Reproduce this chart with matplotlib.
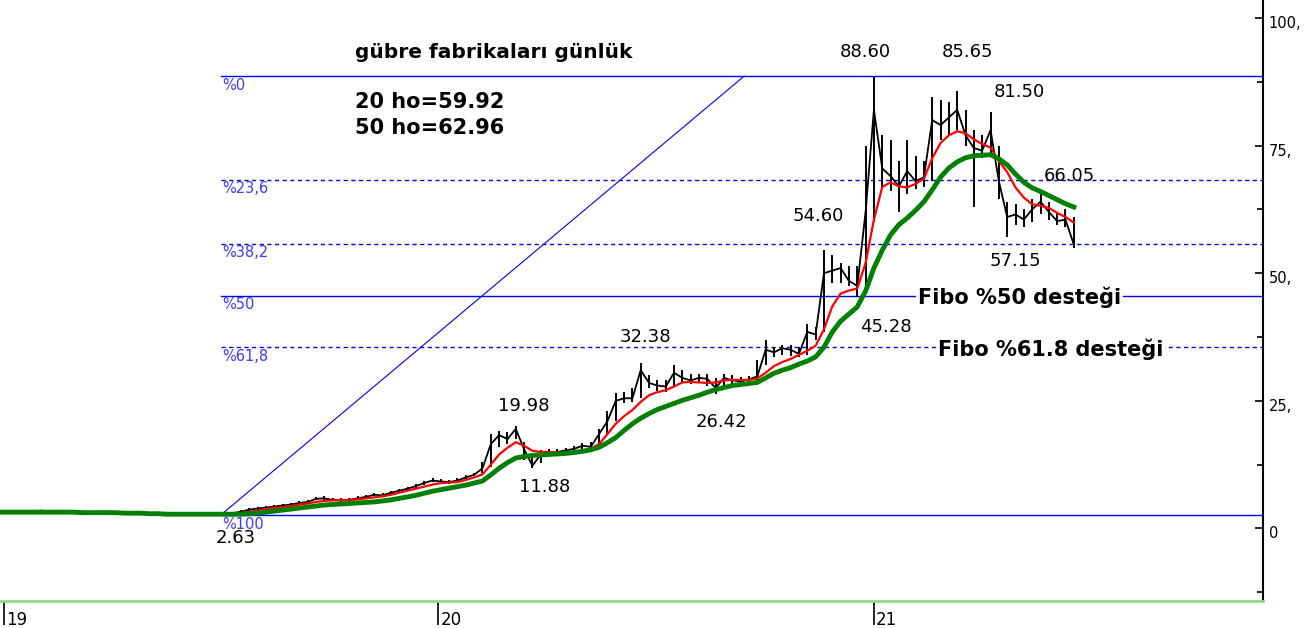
import numpy as np
import pandas as pd
import matplotlib
matplotlib.use("Agg")
import matplotlib.pyplot as plt
import matplotlib.transforms as mtrans

# weekly closes / highs / lows (from end of Dec 2018)
close = [3.2, 3.2, 3.1, 3.1, 3.3, 3.5, 3.3, 3.2, 3.1, 3.1,
         3.1, 3.0, 3.0, 3.0, 3.0, 3.0, 2.9, 2.9, 2.8, 2.8,
         2.8, 2.7, 2.7, 2.7, 2.7, 2.7, 2.7, 2.65, 3.0, 3.3,
         3.7, 3.9, 4.1, 4.3, 4.5, 4.7, 5.0, 5.2, 5.8, 5.9,
         5.6, 5.5, 5.6, 5.9, 6.2, 6.6, 6.5, 7.0, 7.4, 7.8,
         8.3, 8.9, 9.4, 9.2, 9.1, 9.4, 10.0, 10.5, 11.8, 16.5,
         18.3, 17.5, 19.5, 15.5, 12.3, 14.5, 14.8, 15.0, 15.3, 15.6,
         16.2, 16.0, 18.5, 21.0, 25.0, 25.5, 25.5, 31.0, 28.5, 28.0,
         27.8, 30.5, 29.5, 29.0, 29.5, 29.3, 27.5, 29.5, 29.0, 28.8,
         29.2, 29.8, 35.0, 34.5, 35.3, 35.0, 34.2, 38.5, 38.0, 50.0,
         50.5, 51.0, 48.5, 47.5, 62.0, 82.0, 70.5, 69.0, 67.0, 70.0,
         68.0, 68.8, 80.0, 79.0, 80.5, 82.0, 77.0, 74.5, 74.0, 78.0,
         68.0, 61.0, 61.5, 60.5, 62.5, 64.0, 62.0, 60.2, 60.5, 55.6]

high = [3.4, 3.4, 3.3, 3.3, 3.5, 3.7, 3.5, 3.4, 3.3, 3.3,
        3.3, 3.2, 3.2, 3.2, 3.2, 3.2, 3.1, 3.1, 3.0, 3.0,
        3.0, 2.9, 2.9, 2.9, 2.9, 2.9, 2.9, 2.9, 3.3, 3.6,
        4.0, 4.2, 4.4, 4.6, 4.8, 5.0, 5.3, 5.6, 6.2, 6.3,
        6.0, 5.9, 6.0, 6.3, 6.6, 7.0, 6.9, 7.4, 7.8, 8.2,
        8.7, 9.3, 9.8, 9.6, 9.5, 9.8, 10.4, 10.9, 13.0, 18.5,
        19.0, 18.8, 19.98, 17.0, 14.5, 15.3, 15.5, 15.6, 15.8, 16.2,
        16.8, 17.0, 19.5, 23.0, 26.5, 26.8, 27.5, 32.38, 30.0, 29.0,
        29.0, 32.0, 31.0, 30.2, 30.2, 30.2, 29.5, 30.3, 30.0, 29.6,
        29.8, 33.0, 37.0, 35.5, 36.0, 36.0, 35.5, 40.0, 39.5, 54.6,
        53.5, 52.0, 51.5, 51.5, 75.0, 88.6, 77.0, 76.0, 72.0, 76.0,
        73.0, 72.0, 84.5, 84.0, 83.5, 85.65, 82.0, 78.0, 77.0, 81.5,
        75.0, 64.0, 63.5, 62.5, 64.5, 66.05, 64.0, 62.0, 62.5, 61.0]

low = [3.0, 3.0, 2.9, 2.9, 3.1, 3.3, 3.1, 3.0, 2.9, 2.9,
       2.9, 2.8, 2.8, 2.8, 2.8, 2.8, 2.7, 2.7, 2.6, 2.6,
       2.6, 2.6, 2.6, 2.6, 2.6, 2.6, 2.6, 2.63, 2.8, 3.0,
       3.4, 3.6, 3.8, 4.0, 4.2, 4.4, 4.7, 4.9, 5.5, 5.6,
       5.3, 5.2, 5.3, 5.6, 5.9, 6.3, 6.2, 6.7, 7.1, 7.5,
       8.0, 8.6, 9.1, 8.9, 8.8, 9.1, 9.7, 10.2, 10.8, 12.0,
       16.0, 16.5, 17.5, 13.5, 11.88, 12.8, 14.3, 14.5, 14.7, 15.0,
       15.5, 15.6, 16.0, 18.5, 21.0, 24.5, 24.8, 25.5, 27.5, 27.0,
       26.8, 27.8, 28.5, 28.3, 28.5, 28.0, 26.42, 27.5, 28.0, 28.0,
       28.5, 29.0, 32.0, 33.5, 34.0, 33.8, 33.5, 34.0, 37.0, 38.5,
       48.0, 48.0, 47.5, 45.28, 47.0, 60.0, 66.5, 66.0, 62.0, 65.5,
       66.5, 66.8, 68.0, 76.0, 77.0, 78.0, 75.0, 63.0, 72.5, 73.0,
       64.5, 57.15, 59.5, 59.0, 60.0, 61.5, 60.5, 59.5, 59.0, 55.0]

ma20 = [3.2, 3.2, 3.2, 3.2, 3.3, 3.4, 3.3, 3.2, 3.1, 3.1,
        3.1, 3.0, 3.0, 3.0, 3.0, 3.0, 2.9, 2.9, 2.8, 2.8,
        2.8, 2.8, 2.7, 2.7, 2.7, 2.7, 2.7, 2.7, 2.8, 3.0,
        3.3, 3.5, 3.8, 4.0, 4.2, 4.4, 4.7, 4.9, 5.2, 5.4,
        5.5, 5.5, 5.6, 5.7, 5.9, 6.1, 6.3, 6.6, 7.0, 7.4,
        7.8, 8.2, 8.6, 8.9, 9.0, 9.1, 9.5, 10.0, 10.6, 12.5,
        14.5, 15.8, 16.9, 16.2, 15.2, 15.0, 15.0, 14.9, 14.8, 15.0,
        15.3, 15.7, 16.5, 18.5, 20.5, 22.0, 23.2, 24.8, 26.1, 26.7,
        27.1, 27.8, 28.6, 28.7, 28.6, 28.5, 28.6, 29.0, 29.1, 29.1,
        29.1, 29.4, 30.5, 31.8, 32.6, 33.2, 34.0, 34.8, 35.8, 39.0,
        43.5, 46.0, 46.6, 47.0, 52.0, 60.5, 66.9, 67.8, 67.0, 66.8,
        67.5, 68.5, 72.5, 75.5, 77.0, 77.8, 77.4, 76.2, 75.3, 74.6,
        72.0, 69.8, 66.8, 64.8, 63.5, 63.2, 62.8, 61.8, 61.0, 59.92]

ma50 = [3.2, 3.2, 3.2, 3.2, 3.2, 3.2, 3.2, 3.2, 3.2, 3.2,
        3.1, 3.1, 3.1, 3.1, 3.1, 3.0, 3.0, 3.0, 2.9, 2.9,
        2.8, 2.8, 2.8, 2.8, 2.8, 2.8, 2.8, 2.8, 2.8, 2.8,
        2.9, 3.0, 3.2, 3.4, 3.6, 3.8, 4.0, 4.2, 4.4, 4.6,
        4.7, 4.8, 4.9, 5.0, 5.1, 5.2, 5.4, 5.6, 5.9, 6.2,
        6.5, 6.9, 7.3, 7.6, 7.9, 8.2, 8.5, 8.9, 9.3, 10.5,
        11.8, 12.9, 13.8, 14.1, 14.3, 14.4, 14.5, 14.6, 14.7, 14.9,
        15.1, 15.4, 15.9, 16.8, 17.8, 19.2, 20.5, 21.6, 22.5, 23.3,
        23.9, 24.5, 25.1, 25.6, 26.1, 26.7, 27.2, 27.6, 28.0, 28.2,
        28.4, 28.6, 29.5, 30.4, 31.0, 31.5, 32.2, 32.8, 33.6, 35.5,
        38.5, 40.6, 42.0, 43.4, 46.5, 51.0, 54.5, 57.5, 59.5, 60.8,
        62.3, 64.0, 66.3, 68.8, 70.6, 71.8, 72.6, 73.0, 73.1, 73.2,
        72.4, 71.2, 69.4, 67.8, 66.7, 66.0, 65.2, 64.4, 63.6, 62.96]

dates = pd.date_range("2018-12-28", periods=len(close), freq="7D")

fib_low = 2.63
fib_high = 88.60
fib_start = "2019-07-02"
fib_pct = [0, 23.6, 38.2, 50, 61.8, 100]
fib_names = ["%0", "%23,6", "%38,2", "%50", "%61,8", "%100"]
fib_dashed = [False, True, True, False, True, False]

trend_end = "2020-09-14"

price_notes = [("88.60", "2020-12-25", 93.3), ("85.65", "2021-03-21", 93.3),
               ("81.50", "2021-05-03", 85.5), ("66.05", "2021-06-14", 69.0),
               ("54.60", "2020-11-15", 61.2), ("57.15", "2021-04-30", 52.4),
               ("45.28", "2021-01-11", 39.5), ("32.38", "2020-06-23", 37.5),
               ("19.98", "2020-03-13", 24.0), ("26.42", "2020-08-26", 20.8),
               ("11.88", "2020-03-30", 8.1), ("2.63", "2019-07-15", -1.9)]

title_txt = "gübre fabrikaları günlük"
ma_txt = ["20 ho=59.92", "50 ho=62.96"]

ytick_vals = [0, 25, 50, 75, 100]
ytick_lbls = ["0", "25,", "50,", "75,", "100,"]
year_ticks = ["2019-01-01", "2020-01-01", "2021-01-01"]
year_lbls = ["19", "20", "21"]

fig = plt.figure(figsize=(13.12, 6.28), dpi=100)
ax = fig.add_axes([0, 27 / 628, 1263 / 1312, 601 / 628])

xmax = pd.Timestamp("2021-11-24")
ax.set_xlim(pd.Timestamp("2018-12-28 12:00"), xmax)
ax.set_ylim(-14.2, 103.5)

# fibonacci levels
x0 = pd.Timestamp(fib_start)
for p, name, dsh in zip(fib_pct, fib_names, fib_dashed):
    lvl = fib_high - (fib_high - fib_low) * p / 100
    ax.plot([x0, xmax], [lvl, lvl], color="#0000ee", lw=1,
            ls=(0, (3, 2.5)) if dsh else "-", zorder=1)
    ax.annotate(name, xy=(x0, lvl), xytext=(2, -9), textcoords="offset pixels",
                ha="left", va="center", fontsize=10.5, color="#3a3aff")

ax.plot([x0, pd.Timestamp(trend_end)], [fib_low, fib_high], color="#0000ee", lw=0.8, zorder=1)

# price bars and averages
ax.vlines(dates, low, high, color="black", lw=1.4, zorder=2)
ax.plot(dates, close, color="black", lw=1.3, zorder=2)
ax.plot(dates, ma20, color="#ff0000", lw=1.6, zorder=3)
ax.plot(dates, ma50, color="#008000", lw=3.5, zorder=4)

for txt, d, v in price_notes:
    ax.text(pd.Timestamp(d), v, txt, ha="center", va="center", fontsize=13, color="black")

ax.text(pd.Timestamp("2019-10-23"), 93.3, title_txt, ha="left", va="center",
        fontsize=14.5, fontweight="bold")
ax.text(pd.Timestamp("2019-10-23"), 83.5, ma_txt[0], ha="left", va="center",
        fontsize=15, fontweight="bold")
ax.text(pd.Timestamp("2019-10-23"), 78.4, ma_txt[1], ha="left", va="center",
        fontsize=15, fontweight="bold")

lvl50 = fib_high - (fib_high - fib_low) * 0.5
lvl618 = fib_high - (fib_high - fib_low) * 0.618
ax.text(pd.Timestamp("2021-02-07"), lvl50 - 0.4, "Fibo %50 desteği", ha="left", va="center",
        fontsize=15, fontweight="bold", zorder=5,
        bbox=dict(facecolor="white", edgecolor="none", pad=1))
ax.text(pd.Timestamp("2021-02-24"), lvl618 - 0.4, "Fibo %61.8 desteği", ha="left", va="center",
        fontsize=15, fontweight="bold", zorder=5,
        bbox=dict(facecolor="white", edgecolor="none", pad=1))

# axes styling
for s in ["left", "top"]:
    ax.spines[s].set_visible(False)
ax.spines["right"].set_color("black")
ax.spines["right"].set_linewidth(1.5)
ax.spines["bottom"].set_color("#8cd88c")
ax.spines["bottom"].set_linewidth(2)

ax.yaxis.tick_right()
ax.set_yticks(ytick_vals)
ax.set_yticklabels(ytick_lbls)
ax.set_yticks([-12.5, 12.5, 37.5, 62.5, 87.5], minor=True)
ax.tick_params(axis="y", which="major", direction="in", length=6, width=1.2,
               labelsize=10.5, pad=4)
ax.tick_params(axis="y", which="minor", direction="in", length=4, width=1.2)
shift = mtrans.ScaledTranslation(0, -4 / 100, fig.dpi_scale_trans)
for lbl in ax.get_yticklabels():
    lbl.set_transform(lbl.get_transform() + shift)

ax.set_xticks([pd.Timestamp(d) for d in year_ticks])
ax.set_xticklabels([])
ax.tick_params(axis="x", direction="out", length=17, width=1.2, color="black")
for d, lbl in zip(year_ticks, year_lbls):
    ax.annotate(lbl, xy=(pd.Timestamp(d), 0), xycoords=("data", "axes fraction"),
                xytext=(2, -19), textcoords="offset pixels", ha="left", va="center",
                fontsize=12)

fig.savefig("out.png", dpi=100)
